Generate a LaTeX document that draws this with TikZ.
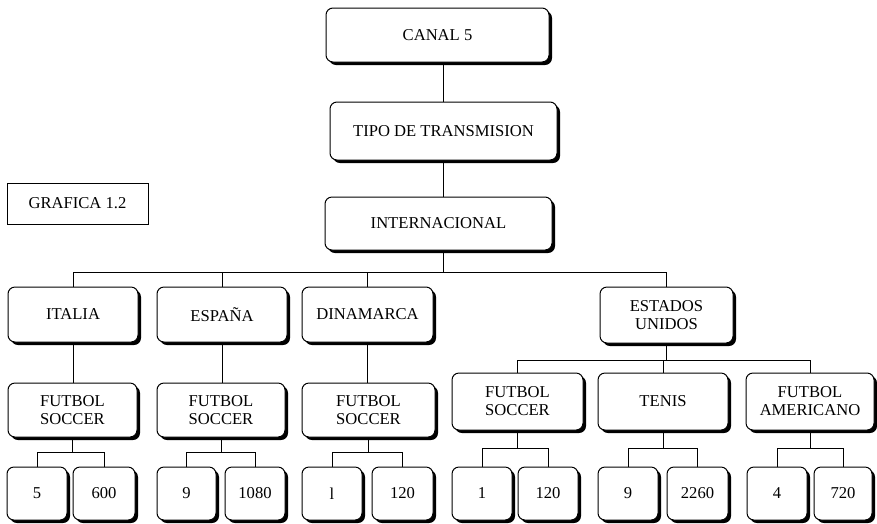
\documentclass[tikz,border=0pt]{standalone}
\usepackage{fontspec}
\setmainfont{Liberation Serif}
\usetikzlibrary{shadows,calc}
\tikzset{
  rbox/.style={draw, line width=1pt, rounded corners=7pt, fill=white, align=center,
    inner sep=0pt, font=\fontsize{16.6}{18}\selectfont,
    drop shadow={shadow xshift=3pt, shadow yshift=-3pt, fill=black, opacity=1}},
  pbox/.style={draw, line width=1pt, fill=white, inner sep=0pt, font=\fontsize{16.6}{18}\selectfont},
  conn/.style={line width=0.9pt},
}
\newcommand\twoleaf[3]{%
  \coordinate (m#1) at ($(#1.south)!0.5!(#1.south |- #2.north)$);
  \draw[conn] (#1.south) -- (m#1);
  \draw[conn] (#2.north) -- (#2.north |- m#1) -- (#3.north |- m#1) -- (#3.north);
}
\begin{document}
\begin{tikzpicture}[x=1pt, y=-1pt]
\useasboundingbox (0,0) rectangle (877,523);
% nodes
\node[rbox, minimum width=223pt, minimum height=54pt] (canal) at (437.5,35) {CANAL 5};
\node[rbox, minimum width=227pt, minimum height=58pt] (tipo) at (443.5,131) {TIPO DE TRANSMISION};
\node[rbox, minimum width=227pt, minimum height=53pt] (intl) at (438.5,223.5) {INTERNACIONAL};
\node[pbox, minimum width=141pt, minimum height=41pt] (graf) at (77.5,203.5) {GRAFICA 1.2};
\node[rbox, minimum width=130pt, minimum height=55pt] (ital) at (73,314.5) {ITALIA};
\node[rbox, minimum width=130pt, minimum height=55pt] (espa) at (222,314.5) {ESPAÑA};
\node[rbox, minimum width=131pt, minimum height=55pt] (dina) at (367.5,314.5) {DINAMARCA};
\node[rbox, minimum width=133pt, minimum height=56pt] (eeuu) at (666.5,315) {ESTADOS\\UNIDOS};
\node[rbox, minimum width=129pt, minimum height=54pt] (fs1) at (72.5,410) {FUTBOL\\SOCCER};
\node[rbox, minimum width=128pt, minimum height=54pt] (fs2) at (221,410) {FUTBOL\\SOCCER};
\node[rbox, minimum width=133pt, minimum height=54pt] (fs3) at (368.5,410) {FUTBOL\\SOCCER};
\node[rbox, minimum width=131pt, minimum height=57pt] (fs4) at (517.5,401.5) {FUTBOL\\SOCCER};
\node[rbox, minimum width=130pt, minimum height=57pt] (ten) at (663,401.5) {TENIS};
\node[rbox, minimum width=128pt, minimum height=57pt] (fa) at (810,401.5) {FUTBOL\\AMERICANO};
\tikzset{leaf/.style={rbox, minimum height=53pt, minimum width=60pt}}
\node[leaf] (l1) at (37,493.5) {5};
\node[leaf, minimum width=62pt] (l2) at (104,493.5) {600};
\node[leaf, minimum width=59pt] (l3) at (186.5,493.5) {9};
\node[leaf] (l4) at (255,493.5) {1080};
\node[leaf] (l5) at (332,493.5) {l};
\node[leaf, minimum width=61pt] (l6) at (402.5,493.5) {120};
\node[leaf] (l7) at (482,493.5) {1};
\node[leaf] (l8) at (548,493.5) {120};
\node[leaf] (l9) at (628,493.5) {9};
\node[leaf, minimum width=61pt] (l10) at (697.5,493.5) {2260};
\node[leaf] (l11) at (777,493.5) {4};
\node[leaf, minimum width=58pt] (l12) at (843,493.5) {720};
% connectors
\coordinate (b1) at (443,272);
\coordinate (b2) at (663,360);
\draw[conn] (tipo.north) -- (tipo.north |- canal.south);
\draw[conn] (tipo.south) -- (tipo.south |- intl.north);
\draw[conn] (b1 |- intl.south) -- (b1);
\draw[conn] (ital.north) -- (ital.north |- b1) -- (eeuu.north |- b1) -- (eeuu.north);
\draw[conn] (espa.north) -- (espa.north |- b1);
\draw[conn] (dina.north) -- (dina.north |- b1);
\draw[conn] (ital.south) -- (fs1.north -| ital.south);
\draw[conn] (espa.south) -- (fs2.north -| espa.south);
\draw[conn] (dina.south) -- (fs3.north -| dina.south);
\draw[conn] (eeuu.south) -- (eeuu.south |- b2);
\draw[conn] (fs4.north) -- (fs4.north |- b2) -- (fa.north |- b2) -- (fa.north);
\draw[conn] (ten.north) -- (ten.north |- b2);
\twoleaf{fs1}{l1}{l2}
\twoleaf{fs2}{l3}{l4}
\twoleaf{fs3}{l5}{l6}
\twoleaf{fs4}{l7}{l8}
\twoleaf{ten}{l9}{l10}
\twoleaf{fa}{l11}{l12}
\end{tikzpicture}
\end{document}
